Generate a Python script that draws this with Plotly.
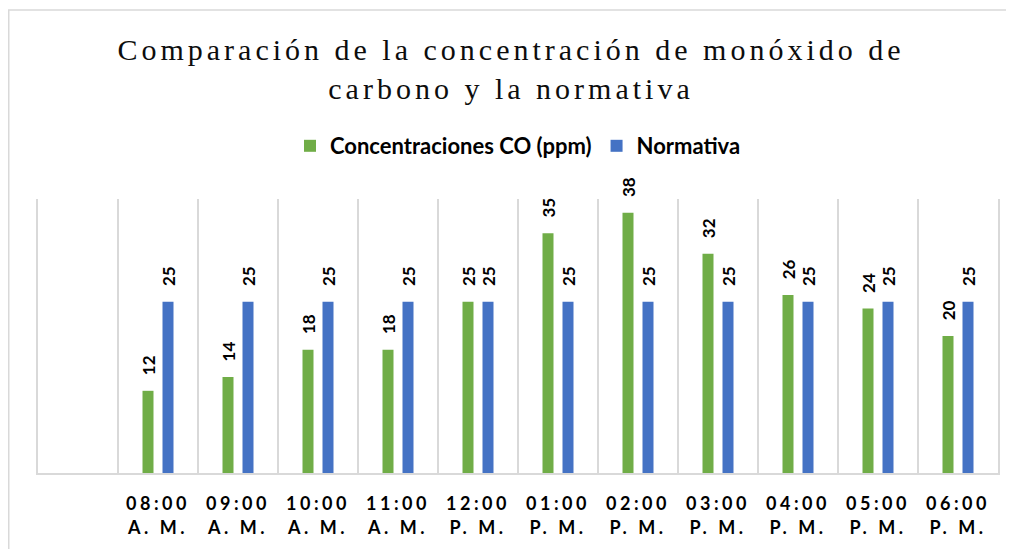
import plotly.graph_objects as go

categories = [" ", "08:00<br>A. M.", "09:00<br>A. M.", "10:00<br>A. M.", "11:00<br>A. M.",
              "12:00<br>P. M.", "01:00<br>P. M.", "02:00<br>P. M.", "03:00<br>P. M.",
              "04:00<br>P. M.", "05:00<br>P. M.", "06:00<br>P. M."]
co_ppm = [None, 12, 14, 18, 18, 25, 35, 38, 32, 26, 24, 20]
normativa = [None, 25, 25, 25, 25, 25, 25, 25, 25, 25, 25, 25]
title_lines = ["Comparación de la concentración de monóxido de", "carbono y la normativa"]

GREEN = "#70AD47"
BLUE = "#4472C4"
GRID = "#d9d9d9"
label_font = dict(family="Lato", size=17, color="black", weight="bold")


def spaced(s, px):
    return '<span style="letter-spacing:%spx">%s</span>' % (px, s)


tick_text = ["<br>".join(spaced(part, 3.5) for part in c.split("<br>")) for c in categories]

fig = go.Figure()
for name, vals, col in [("Concentraciones CO (ppm)", co_ppm, GREEN), ("Normativa", normativa, BLUE)]:
    fig.add_trace(go.Bar(
        x=categories, y=vals, name=name,
        marker=dict(color=col, line=dict(width=0)),
        texttemplate="\u2002\u00a0%{y}", textposition="outside", textangle=-90,
        textfont=label_font, cliponaxis=False, constraintext="none",
    ))

# page has an 8px body margin: figure coordinates = page coordinates - 8
W, H = 1006, 541
ml, mr, mt, mb = 30, 16, 191, 76
pw, ph = W - ml - mr, H - mt - mb

fig.update_layout(
    width=W, height=H,
    margin=dict(l=ml, r=mr, t=mt, b=mb, pad=0),
    paper_bgcolor="white", plot_bgcolor="white",
    barmode="group", bargap=0.5, bargroupgap=0.45,
    title=dict(
        text="<br>".join(spaced(t, 4) for t in title_lines),
        x=0.5, xanchor="center", y=(H - 52) / H, yanchor="middle",
        font=dict(family="Liberation Serif", size=30, color="#0d0d0d"),
    ),
    legend=dict(
        orientation="h", x=0.5, xanchor="center", y=1 + (mt - 138) / ph, yanchor="middle",
        font=dict(family="Lato", size=22, color="black", weight="bold"),
        itemwidth=30, tracegroupgap=0,
    ),
    xaxis=dict(
        type="category", categoryorder="array", categoryarray=categories,
        tickvals=categories, ticktext=tick_text,
        tickson="boundaries", showgrid=True, gridcolor=GRID, gridwidth=1.5,
        showline=True, linecolor=GRID, linewidth=1.5,
        ticks="", ticklen=0, ticklabelstandoff=14,
        tickfont=dict(family="Lato", size=18, color="black", weight="bold"),
        range=[-0.5, 11.5],
    ),
    yaxis=dict(
        range=[0, 40], showgrid=False, showticklabels=False, zeroline=False,
        showline=True, linecolor=GRID, linewidth=1.5, mirror=True, ticks="",
    ),
    shapes=[
        dict(type="line", xref="paper", yref="paper",
             x0=(0.75 - ml) / pw, x1=(0.75 - ml) / pw, y0=1 + (mt - 2) / ph, y1=-(mb + 5) / ph,
             line=dict(color=GRID, width=1.5)),
        dict(type="line", xref="paper", yref="paper",
             x0=(0 - ml) / pw, x1=(W + 5 - ml) / pw, y0=1 + (mt - 2) / ph, y1=1 + (mt - 2) / ph,
             line=dict(color=GRID, width=1.5)),
    ],
)

fig.write_html("out.html")
